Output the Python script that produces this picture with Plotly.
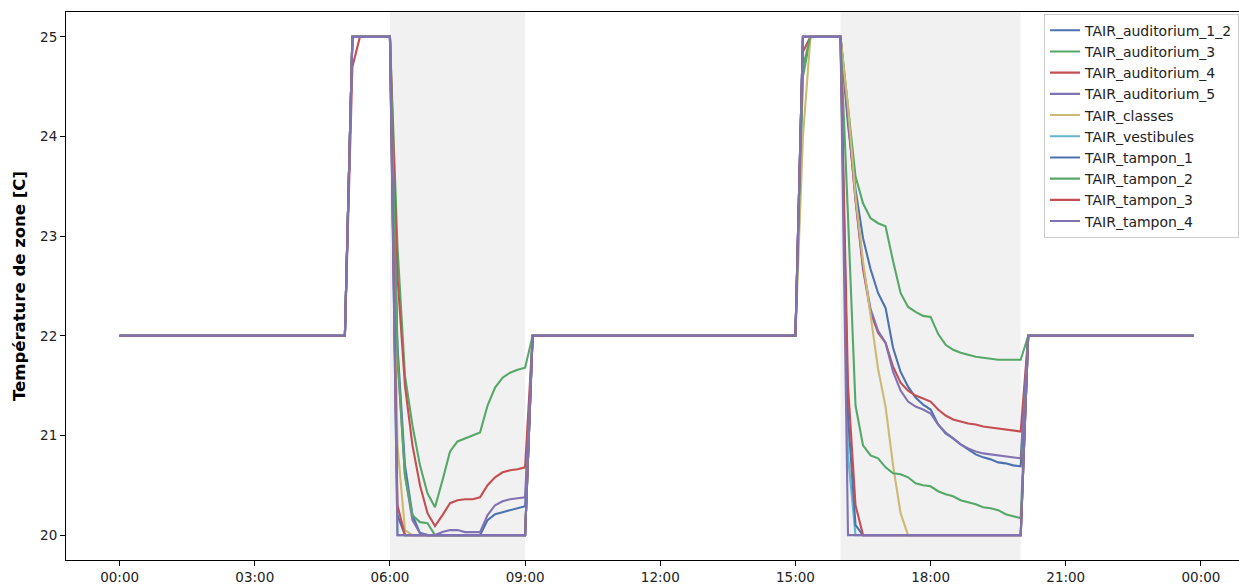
import pandas as pd
import plotly.graph_objects as go

# ---------------- data (10-minute time step, 00:00 -> 23:50) ----------------
names = ["TAIR_auditorium_1_2", "TAIR_auditorium_3", "TAIR_auditorium_4", "TAIR_auditorium_5",
         "TAIR_classes", "TAIR_vestibules", "TAIR_tampon_1", "TAIR_tampon_2",
         "TAIR_tampon_3", "TAIR_tampon_4"]

night_1 = [22.0] * 31          # 00:00 - 05:00
midday = [22.0] * 36           # 09:10 - 15:00
night_2 = [22.0] * 23          # 20:10 - 23:50

# 05:10 - 05:50
peak_1 = {
    "TAIR_auditorium_1_2": [25, 25, 25, 25, 25],
    "TAIR_auditorium_3": [25, 25, 25, 25, 25],
    "TAIR_auditorium_4": [24.7, 25, 25, 25, 25],
    "TAIR_auditorium_5": [25, 25, 25, 25, 25],
    "TAIR_classes": [25, 25, 25, 25, 25],
    "TAIR_vestibules": [25, 25, 25, 25, 25],
    "TAIR_tampon_1": [25, 25, 25, 25, 25],
    "TAIR_tampon_2": [25, 25, 25, 25, 25],
    "TAIR_tampon_3": [25, 25, 25, 25, 25],
    "TAIR_tampon_4": [25, 25, 25, 25, 25],
}

# 06:00 - 09:00
dip_1 = {
    "TAIR_auditorium_1_2": [25, 21.9, 20.7, 20.2, 20.02, 20.0, 20.0, 20.0, 20.0, 20.0, 20.0, 20.0,
                            20.0, 20.15, 20.21, 20.23, 20.25, 20.27, 20.29],
    "TAIR_auditorium_3": [25, 22.9, 21.6, 21.1, 20.7, 20.42, 20.28, 20.55, 20.84, 20.94, 20.97, 21.0,
                          21.03, 21.3, 21.48, 21.58, 21.63, 21.66, 21.68],
    "TAIR_auditorium_4": [25, 22.6, 21.5, 20.9, 20.5, 20.22, 20.09, 20.2, 20.32, 20.35, 20.36, 20.36,
                          20.38, 20.5, 20.58, 20.63, 20.65, 20.66, 20.68],
    "TAIR_auditorium_5": [25, 21.8, 20.6, 20.15, 20.02, 20.0, 20.0, 20.03, 20.05, 20.05, 20.03, 20.03,
                          20.03, 20.2, 20.3, 20.34, 20.36, 20.37, 20.38],
    "TAIR_classes": [25, 20.9, 20.05, 20.0, 20.0, 20.0, 20.0, 20.0, 20.0, 20.0, 20.0, 20.0,
                     20.0, 20.0, 20.0, 20.0, 20.0, 20.0, 20.0],
    "TAIR_vestibules": [25, 20.0, 20.0, 20.0, 20.0, 20.0, 20.0, 20.0, 20.0, 20.0, 20.0, 20.0,
                        20.0, 20.0, 20.0, 20.0, 20.0, 20.0, 20.0],
    "TAIR_tampon_1": [25, 20.2, 20.0, 20.0, 20.0, 20.0, 20.0, 20.0, 20.0, 20.0, 20.0, 20.0,
                      20.0, 20.0, 20.0, 20.0, 20.0, 20.0, 20.0],
    "TAIR_tampon_2": [25, 21.8, 20.6, 20.2, 20.13, 20.12, 20.0, 20.0, 20.0, 20.0, 20.0, 20.0,
                      20.0, 20.0, 20.0, 20.0, 20.0, 20.0, 20.0],
    "TAIR_tampon_3": [25, 20.3, 20.0, 20.0, 20.0, 20.0, 20.0, 20.0, 20.0, 20.0, 20.0, 20.0,
                      20.0, 20.0, 20.0, 20.0, 20.0, 20.0, 20.0],
    "TAIR_tampon_4": [25, 20.0, 20.0, 20.0, 20.0, 20.0, 20.0, 20.0, 20.0, 20.0, 20.0, 20.0,
                      20.0, 20.0, 20.0, 20.0, 20.0, 20.0, 20.0],
}

# 15:10 - 15:50
peak_2 = {
    "TAIR_auditorium_1_2": [25, 25, 25, 25, 25],
    "TAIR_auditorium_3": [24.6, 25, 25, 25, 25],
    "TAIR_auditorium_4": [24.85, 25, 25, 25, 25],
    "TAIR_auditorium_5": [25, 25, 25, 25, 25],
    "TAIR_classes": [24.0, 25, 25, 25, 25],
    "TAIR_vestibules": [25, 25, 25, 25, 25],
    "TAIR_tampon_1": [25, 25, 25, 25, 25],
    "TAIR_tampon_2": [24.7, 25, 25, 25, 25],
    "TAIR_tampon_3": [25, 25, 25, 25, 25],
    "TAIR_tampon_4": [25, 25, 25, 25, 25],
}

# 16:00 - 20:00
dip_2 = {
    "TAIR_auditorium_1_2": [25, 24.12, 23.47, 22.98, 22.67, 22.43, 22.28, 21.88, 21.64, 21.49, 21.38,
                            21.31, 21.26, 21.11, 21.02, 20.97, 20.91, 20.86, 20.81, 20.78, 20.76,
                            20.73, 20.72, 20.7, 20.69],
    "TAIR_auditorium_3": [25, 24.3, 23.6, 23.33, 23.18, 23.13, 23.1, 22.75, 22.43, 22.29, 22.24,
                          22.2, 22.19, 22.02, 21.91, 21.86, 21.83, 21.81, 21.79, 21.78, 21.77,
                          21.76, 21.76, 21.76, 21.76],
    "TAIR_auditorium_4": [25, 24.19, 23.36, 22.67, 22.24, 22.03, 21.93, 21.69, 21.53, 21.45, 21.4,
                          21.37, 21.34, 21.26, 21.2, 21.16, 21.14, 21.12, 21.11, 21.09, 21.08,
                          21.07, 21.06, 21.05, 21.04],
    "TAIR_auditorium_5": [25, 24.2, 23.38, 22.7, 22.27, 22.05, 21.93, 21.64, 21.45, 21.34, 21.29,
                          21.26, 21.22, 21.11, 21.03, 20.97, 20.91, 20.87, 20.84, 20.82, 20.81,
                          20.8, 20.79, 20.78, 20.77],
    "TAIR_classes": [25, 24.3, 23.4, 22.75, 22.22, 21.67, 21.29, 20.7, 20.22, 20.0, 20.0,
                     20.0, 20.0, 20.0, 20.0, 20.0, 20.0, 20.0, 20.0, 20.0, 20.0,
                     20.0, 20.0, 20.0, 20.0],
    "TAIR_vestibules": [25, 20.8, 20.0, 20.0, 20.0, 20.0, 20.0, 20.0, 20.0, 20.0, 20.0,
                        20.0, 20.0, 20.0, 20.0, 20.0, 20.0, 20.0, 20.0, 20.0, 20.0,
                        20.0, 20.0, 20.0, 20.0],
    "TAIR_tampon_1": [25, 21.2, 20.1, 20.0, 20.0, 20.0, 20.0, 20.0, 20.0, 20.0, 20.0,
                      20.0, 20.0, 20.0, 20.0, 20.0, 20.0, 20.0, 20.0, 20.0, 20.0,
                      20.0, 20.0, 20.0, 20.0],
    "TAIR_tampon_2": [25, 23.2, 21.3, 20.9, 20.8, 20.77, 20.68, 20.62, 20.61, 20.58, 20.52,
                      20.5, 20.49, 20.44, 20.41, 20.39, 20.35, 20.33, 20.31, 20.28, 20.27,
                      20.25, 20.21, 20.19, 20.17],
    "TAIR_tampon_3": [25, 21.5, 20.3, 20.0, 20.0, 20.0, 20.0, 20.0, 20.0, 20.0, 20.0,
                      20.0, 20.0, 20.0, 20.0, 20.0, 20.0, 20.0, 20.0, 20.0, 20.0,
                      20.0, 20.0, 20.0, 20.0],
    "TAIR_tampon_4": [25, 20.0, 20.0, 20.0, 20.0, 20.0, 20.0, 20.0, 20.0, 20.0, 20.0,
                      20.0, 20.0, 20.0, 20.0, 20.0, 20.0, 20.0, 20.0, 20.0, 20.0,
                      20.0, 20.0, 20.0, 20.0],
}

colors = ["#4C72B0", "#55A868", "#C44E52", "#8172B2", "#CCB974", "#64B5CD",
          "#4C72B0", "#55A868", "#C44E52", "#8172B2"]

occupied_periods = [("06:00", "09:00"), ("16:00", "20:00")]
tick_hours = [0, 3, 6, 9, 12, 15, 18, 21, 24]

# ---------------- figure ----------------
day = pd.Timestamp("2023-01-01")
times = pd.date_range(day, periods=144, freq="10min")

fig = go.Figure()
for name, col in zip(names, colors):
    y = night_1 + peak_1[name] + dip_1[name] + midday + peak_2[name] + dip_2[name] + night_2
    fig.add_trace(go.Scatter(x=times, y=y, mode="lines", name=name,
                             line=dict(color=col, width=2.1)))

for a, b in occupied_periods:
    fig.add_shape(type="rect", xref="x", yref="paper",
                  x0=day + pd.Timedelta(a + ":00"), x1=day + pd.Timedelta(b + ":00"),
                  y0=0, y1=1, fillcolor="rgba(128,128,128,0.11)", line_width=0, layer="below")

font_family = "DejaVu Sans"
tickvals = [day + pd.Timedelta(hours=h) for h in tick_hours]
x0 = day - pd.Timedelta(hours=1.19)
x1 = day + pd.Timedelta(hours=24.845)

fig.update_layout(
    width=1239, height=584,
    margin=dict(l=66, r=0, t=12, b=24),
    paper_bgcolor="white", plot_bgcolor="white",
    font=dict(family=font_family, size=14, color="#222222"),
    showlegend=True,
    legend=dict(x=0.8338, y=0.997, xanchor="left", yanchor="top",
                bgcolor="rgba(255,255,255,0.85)", bordercolor="#cccccc", borderwidth=1,
                font=dict(family=font_family, size=14, color="#222222"),
                itemwidth=30),
    xaxis=dict(type="date", range=[x0, x1], tickvals=tickvals,
               ticktext=[t.strftime("%H:%M") for t in tickvals],
               showgrid=False, zeroline=False, showline=True, linecolor="black",
               linewidth=1, mirror=True, ticks="outside", ticklen=5, tickwidth=1,
               tickcolor="black", tickfont=dict(size=13.5)),
    yaxis=dict(range=[19.75, 25.25], tickvals=[20, 21, 22, 23, 24, 25],
               showgrid=False, zeroline=False, showline=True, linecolor="black",
               linewidth=1, mirror=False, ticks="outside", ticklen=5, tickwidth=1,
               tickcolor="black", tickfont=dict(size=13.5),
               title=dict(text="<b>Température de zone [C]</b>",
                          font=dict(size=16.5, color="black"), standoff=10)),
)

fig.write_html("out.html")
